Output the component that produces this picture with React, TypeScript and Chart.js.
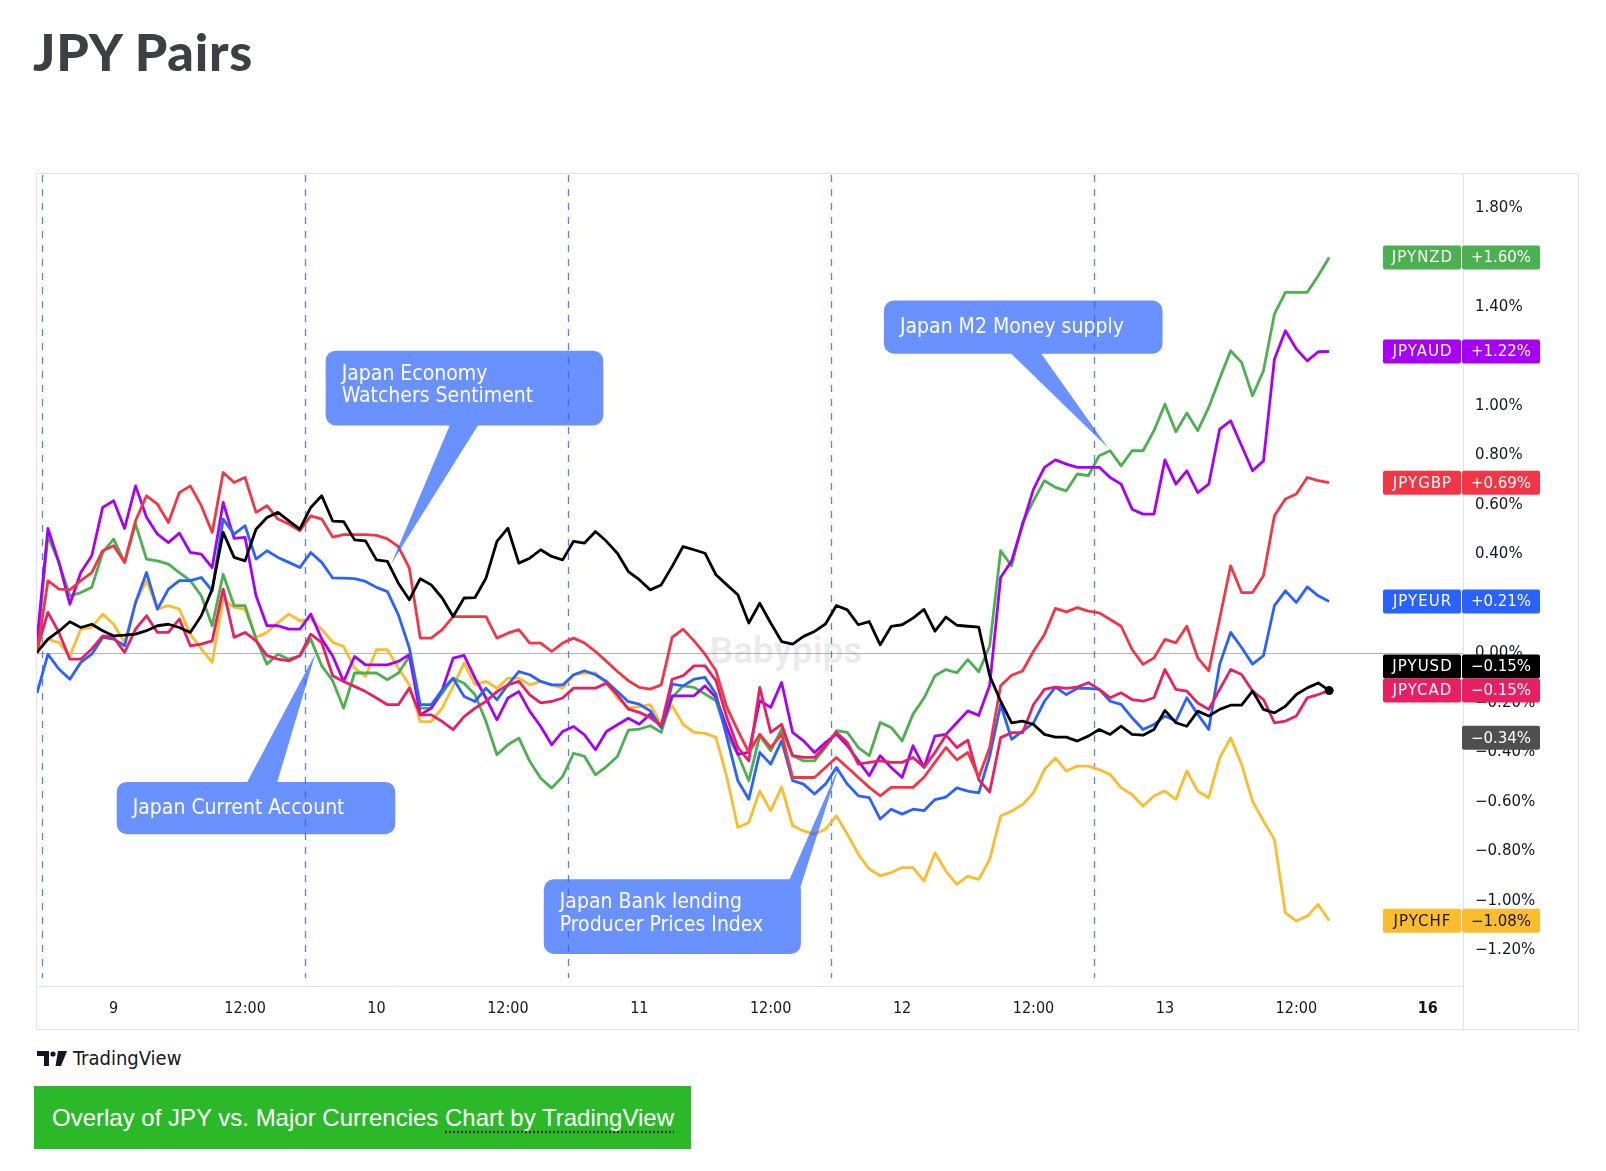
import React, { useEffect, useRef } from "react";
import { Chart, registerables } from "chart.js";

Chart.register(...registerables);

// ---------------- DATA ----------------
// hourly samples, hour 0 = day "9" 00:00 ; series start at hour -7
const hours = Array.from({ length: 119 }, (_, i) => i - 7);

const xTickValues = [0, 12, 24, 36, 48, 60, 72, 84, 96, 108, 120];
const xTickLabels = ["9", "12:00", "10", "12:00", "11", "12:00", "12", "12:00", "13", "12:00", "16"];
const yTickValues = [-1.2, -1.0, -0.8, -0.6, -0.4, -0.2, 0, 0.2, 0.4, 0.6, 0.8, 1.0, 1.2, 1.4, 1.6, 1.8];
const eventHours = [-6.5, 17.5, 41.5, 65.5, 89.5];

const jpyusd = [
  0.004, 0.058, 0.09, 0.128, 0.105, 0.118, 0.092,
  0.071, 0.074, 0.078, 0.092, 0.112, 0.118, 0.105, 0.085, 0.152, 0.26, 0.489, 0.388,
  0.374, 0.502, 0.549, 0.57, 0.536, 0.502, 0.59, 0.637, 0.535, 0.533, 0.459, 0.455,
  0.378, 0.372, 0.284, 0.217, 0.302, 0.277, 0.224, 0.149, 0.224, 0.226, 0.304, 0.453,
  0.506, 0.365, 0.385, 0.419, 0.392, 0.378, 0.453, 0.446, 0.493, 0.453, 0.405, 0.331,
  0.298, 0.257, 0.277, 0.352, 0.432, 0.419, 0.405, 0.318, 0.277, 0.237, 0.123, 0.203,
  0.123, 0.048, 0.038, 0.069, 0.089, 0.119, 0.194, 0.176, 0.116, 0.129, 0.035, 0.109,
  0.116, 0.143, 0.178, 0.09, 0.147, 0.114, 0.11, 0.106, -0.09, -0.193, -0.28, -0.273,
  -0.287, -0.327, -0.338, -0.338, -0.354, -0.334, -0.307, -0.327, -0.294, -0.327, -0.33, -0.307,
  -0.23, -0.28, -0.294, -0.233, -0.253, -0.226, -0.209, -0.209, -0.152, -0.226, -0.24, -0.213,
  -0.166, -0.139, -0.119, -0.15,
];

const jpyaud = [
  0.05, 0.505, 0.368, 0.199, 0.327, 0.395, 0.59,
  0.617, 0.505, 0.677, 0.55, 0.482, 0.448, 0.486, 0.408, 0.401, 0.347, 0.61, 0.465,
  0.469, 0.233, 0.112, 0.112, 0.098, 0.098, 0.159, 0.058, -0.01, -0.113, -0.012, -0.046,
  -0.046, -0.046, -0.032, -0.005, -0.248, -0.221, -0.147, -0.019, -0.008, -0.1, -0.18, -0.268,
  -0.18, -0.154, -0.234, -0.295, -0.369, -0.315, -0.295, -0.329, -0.389, -0.315, -0.288, -0.262,
  -0.286, -0.245, -0.299, -0.171, -0.171, -0.171, -0.131, -0.178, -0.299, -0.407, -0.4, -0.191,
  -0.218, -0.117, -0.319, -0.353, -0.4, -0.36, -0.326, -0.373, -0.434, -0.494, -0.413, -0.461,
  -0.501, -0.373, -0.46, -0.334, -0.327, -0.28, -0.232, -0.25, -0.128, 0.307, 0.374, 0.52,
  0.664, 0.752, 0.782, 0.765, 0.752, 0.752, 0.752, 0.711, 0.684, 0.583, 0.563, 0.563,
  0.782, 0.684, 0.738, 0.65, 0.684, 0.906, 0.94, 0.839, 0.738, 0.778, 1.189, 1.304,
  1.23, 1.182, 1.219, 1.22,
];

const jpygbp = [
  0.0, 0.294, 0.26, 0.257, 0.294, 0.327, 0.415,
  0.435, 0.368, 0.536, 0.637, 0.603, 0.529, 0.65, 0.677, 0.597, 0.489, 0.731, 0.691,
  0.711, 0.57, 0.597, 0.543, 0.523, 0.496, 0.556, 0.543, 0.47, 0.48, 0.48, 0.48,
  0.477, 0.463, 0.432, 0.345, 0.062, 0.062, 0.096, 0.149, 0.149, 0.149, 0.149, 0.062,
  0.082, 0.096, 0.042, 0.042, 0.008, 0.042, 0.062, 0.042, 0.008, -0.032, -0.073, -0.11,
  -0.137, -0.144, -0.127, 0.065, 0.098, 0.051, -0.003, -0.07, -0.218, -0.312, -0.4, -0.326,
  -0.38, -0.326, -0.501, -0.501, -0.501, -0.461, -0.42, -0.461, -0.501, -0.541, -0.575, -0.541,
  -0.541, -0.541, -0.5, -0.44, -0.38, -0.43, -0.4, -0.5, -0.38, -0.13, -0.088, -0.071,
  0.009, 0.077, 0.182, 0.168, 0.185, 0.171, 0.164, 0.137, 0.11, 0.016, -0.044, -0.018,
  0.057, 0.043, 0.11, -0.018, -0.07, 0.14, 0.354, 0.246, 0.246, 0.314, 0.556, 0.624,
  0.644, 0.711, 0.698, 0.69,
];

const jpynzd = [
  0.02, 0.475, 0.368, 0.233, 0.246, 0.267, 0.408,
  0.462, 0.368, 0.523, 0.381, 0.374, 0.361, 0.327, 0.294, 0.233, 0.112, 0.32, 0.193,
  0.193, 0.058, -0.043, -0.003, -0.023, -0.01, 0.058, -0.05, -0.11, -0.221, -0.079, -0.079,
  -0.079, -0.106, -0.079, -0.012, -0.221, -0.221, -0.16, -0.1, -0.12, -0.167, -0.275, -0.409,
  -0.369, -0.342, -0.436, -0.504, -0.544, -0.497, -0.403, -0.416, -0.49, -0.457, -0.416, -0.31,
  -0.306, -0.292, -0.319, -0.178, -0.131, -0.137, -0.164, -0.191, -0.326, -0.407, -0.514, -0.333,
  -0.393, -0.306, -0.413, -0.434, -0.434, -0.38, -0.312, -0.319, -0.38, -0.413, -0.279, -0.299,
  -0.353, -0.245, -0.18, -0.09, -0.065, -0.078, -0.025, -0.074, 0.03, 0.415, 0.354, 0.53,
  0.617, 0.698, 0.671, 0.657, 0.725, 0.718, 0.799, 0.819, 0.758, 0.819, 0.819, 0.9,
  1.007, 0.896, 0.971, 0.9, 0.994, 1.111, 1.223, 1.176, 1.041, 1.142, 1.371, 1.459,
  1.459, 1.459, 1.526, 1.6,
];

const jpyeur = [
  -0.16, -0.003, -0.063, -0.104, -0.036, -0.003, 0.065,
  0.058, 0.031, 0.206, 0.327, 0.179, 0.26, 0.294, 0.294, 0.307, 0.253, 0.543, 0.482,
  0.516, 0.381, 0.415, 0.388, 0.368, 0.347, 0.408, 0.368, 0.305, 0.304, 0.302, 0.291,
  0.267, 0.25, 0.156, 0.022, -0.207, -0.207, -0.147, -0.1, -0.174, -0.194, -0.14, -0.187,
  -0.127, -0.073, -0.086, -0.113, -0.127, -0.127, -0.086, -0.07, -0.086, -0.113, -0.154, -0.195,
  -0.205, -0.232, -0.299, -0.124, -0.131, -0.104, -0.097, -0.164, -0.339, -0.514, -0.589, -0.4,
  -0.447, -0.353, -0.514, -0.528, -0.568, -0.528, -0.461, -0.528, -0.575, -0.582, -0.669, -0.629,
  -0.649, -0.629, -0.635, -0.59, -0.58, -0.543, -0.556, -0.563, -0.415, -0.206, -0.347, -0.314,
  -0.28, -0.193, -0.136, -0.166, -0.141, -0.141, -0.145, -0.193, -0.206, -0.26, -0.307, -0.287,
  -0.253, -0.273, -0.179, -0.246, -0.307, -0.044, 0.085, 0.024, -0.043, -0.009, 0.193, 0.253,
  0.206, 0.269, 0.233, 0.21,
];

const jpychf = [
  0.018, 0.058, 0.044, -0.009, 0.098, 0.105, 0.159,
  0.118, 0.044, 0.206, 0.294, 0.179, 0.193, 0.179, 0.078, 0.018, -0.036, 0.22, 0.186,
  0.179, 0.065, 0.085, 0.125, 0.159, 0.132, 0.139, 0.098, 0.045, 0.028, -0.059, -0.093,
  0.015, 0.015, -0.059, -0.127, -0.275, -0.275, -0.221, -0.133, -0.039, -0.127, -0.113, -0.14,
  -0.1, -0.1, -0.127, -0.113, -0.127, -0.14, -0.086, -0.079, -0.079, -0.12, -0.18, -0.22,
  -0.215, -0.207, -0.286, -0.211, -0.286, -0.319, -0.323, -0.339, -0.501, -0.703, -0.683, -0.555,
  -0.636, -0.539, -0.696, -0.717, -0.73, -0.71, -0.656, -0.73, -0.811, -0.871, -0.898, -0.885,
  -0.865, -0.865, -0.92, -0.805, -0.879, -0.933, -0.9, -0.913, -0.832, -0.657, -0.637, -0.61,
  -0.563, -0.469, -0.422, -0.475, -0.455, -0.455, -0.469, -0.489, -0.543, -0.57, -0.617, -0.576,
  -0.556, -0.59, -0.475, -0.556, -0.583, -0.422, -0.341, -0.448, -0.597, -0.677, -0.752, -1.048,
  -1.081, -1.061, -1.014, -1.08,
];

const jpycad = [
  0.018, 0.166, 0.085, -0.023, -0.023, 0.018, 0.071,
  0.065, 0.004, 0.098, 0.152, 0.085, 0.085, 0.139, 0.031, 0.038, 0.051, 0.26, 0.065,
  0.085, 0.051, -0.009, -0.023, -0.03, -0.009, 0.078, 0.044, -0.09, -0.113, -0.133, -0.154,
  -0.18, -0.207, -0.207, -0.14, -0.248, -0.248, -0.275, -0.308, -0.255, -0.221, -0.194, -0.154,
  -0.127, -0.113, -0.167, -0.2, -0.194, -0.18, -0.14, -0.14, -0.14, -0.12, -0.167, -0.225,
  -0.238, -0.259, -0.292, -0.104, -0.09, -0.05, -0.05, -0.11, -0.259, -0.38, -0.434, -0.137,
  -0.319, -0.286, -0.413, -0.42, -0.42, -0.373, -0.319, -0.36, -0.447, -0.44, -0.434, -0.44,
  -0.44, -0.42, -0.46, -0.4, -0.33, -0.38, -0.35, -0.51, -0.56, -0.34, -0.32, -0.32,
  -0.206, -0.145, -0.136, -0.141, -0.136, -0.118, -0.145, -0.179, -0.159, -0.186, -0.193, -0.179,
  -0.065, -0.145, -0.152, -0.2, -0.226, -0.145, -0.065, -0.085, -0.152, -0.186, -0.28, -0.273,
  -0.253, -0.179, -0.166, -0.15,
];

const seriesNames = ["JPYNZD", "JPYAUD", "JPYGBP", "JPYEUR", "JPYUSD", "JPYCAD", "JPYCHF"];
const seriesValues = [jpynzd, jpyaud, jpygbp, jpyeur, jpyusd, jpycad, jpychf];
const seriesColors = ["#4caf50", "#a800f5", "#f23645", "#2962ff", "#000000", "#e91e63", "#fbbc2e"];
const seriesTextColors = ["#ffffff", "#ffffff", "#ffffff", "#ffffff", "#ffffff", "#ffffff", "#131722"];
// drawing order (first = on top)
const drawOrder = [4, 2, 5, 3, 1, 0, 6];

const indexLastValue = -0.34;
const watermarkText = "Babypips";
const watermarkHour = 61.4;

const callouts = [
  {
    lines: ["Japan Economy", "Watchers Sentiment"],
    box: [19.36, 44.71, 1.2234, 0.9212],
    tip: [25.33, 0.36],
    base: [[30.77, 0.93], [33.39, 0.93]],
  },
  {
    lines: ["Japan Current Account"],
    box: [0.28, 25.72, -0.519, -0.73],
    tip: [18.43, 0.0],
    base: [[12.06, -0.53], [14.87, -0.53]],
  },
  {
    lines: ["Japan Bank lending", "Producer Prices Index"],
    box: [39.28, 62.76, -0.912, -1.214],
    tip: [66.3, -0.45],
    base: [[61.6, -0.925], [62.6, -0.96]],
  },
  {
    lines: ["Japan M2 Money supply"],
    box: [70.34, 95.78, 1.426, 1.211],
    tip: [90.82, 0.83],
    base: [[81.75, 1.22], [84.57, 1.22]],
  },
];

// ---------------- helpers ----------------
const COND = "'DejaVu Sans Condensed', 'DejaVu Sans', sans-serif";
const fmtPct = (v: number) => {
  const a = Math.abs(v).toFixed(2);
  if (a === "0.00") return "0.00%";
  return (v > 0 ? "+" : "\u2212") + a + "%";
};
const fmtTick = (v: number) => {
  const a = Math.abs(v).toFixed(2);
  if (a === "0.00") return "0.00%";
  return (v < 0 ? "\u2212" : "") + a + "%";
};

function signedArea(pts: number[][]) {
  let s = 0;
  for (let i = 0; i < pts.length; i++) {
    const a = pts[i];
    const b = pts[(i + 1) % pts.length];
    s += a[0] * b[1] - b[0] * a[1];
  }
  return s;
}

const overlayPlugin = {
  id: "overlay",
  beforeDatasetsDraw(chart: any) {
    const { ctx, chartArea } = chart;
    const xs = chart.scales.x;
    const ys = chart.scales.y;
    ctx.save();
    // watermark
    ctx.font = "600 37px Roboto, 'Open Sans', sans-serif";
    ctx.fillStyle = "rgba(120,123,134,0.15)";
    ctx.textAlign = "center";
    ctx.textBaseline = "middle";
    ctx.fillText(watermarkText, xs.getPixelForValue(watermarkHour), ys.getPixelForValue(0));
    // event lines
    ctx.strokeStyle = "rgba(41,98,255,0.8)";
    ctx.lineWidth = 1.3;
    ctx.setLineDash([7, 7]);
    for (const h of eventHours) {
      const px = Math.round(xs.getPixelForValue(h)) + 0.5;
      ctx.beginPath();
      ctx.moveTo(px, chartArea.top + 1);
      ctx.lineTo(px, chartArea.bottom - 8);
      ctx.stroke();
    }
    ctx.restore();
  },
  afterDatasetsDraw(chart: any) {
    const { ctx } = chart;
    const xs = chart.scales.x;
    const ys = chart.scales.y;
    ctx.save();
    for (const c of callouts) {
      const left = xs.getPixelForValue(c.box[0]);
      const right = xs.getPixelForValue(c.box[1]);
      const top = ys.getPixelForValue(c.box[2]);
      const bottom = ys.getPixelForValue(c.box[3]);
      const rect = [[left, top], [right, top], [right, bottom], [left, bottom]];
      let tri = [
        [xs.getPixelForValue(c.base[0][0]), ys.getPixelForValue(c.base[0][1])],
        [xs.getPixelForValue(c.tip[0]), ys.getPixelForValue(c.tip[1])],
        [xs.getPixelForValue(c.base[1][0]), ys.getPixelForValue(c.base[1][1])],
      ];
      if (Math.sign(signedArea(tri)) !== Math.sign(signedArea(rect))) tri = [tri[2], tri[1], tri[0]];
      ctx.beginPath();
      ctx.roundRect(left, top, right - left, bottom - top, 10);
      ctx.moveTo(tri[0][0], tri[0][1]);
      ctx.lineTo(tri[1][0], tri[1][1]);
      ctx.lineTo(tri[2][0], tri[2][1]);
      ctx.closePath();
      ctx.fillStyle = "rgba(41,98,255,0.7)";
      ctx.fill("nonzero");
      // text
      ctx.fillStyle = "#ffffff";
      ctx.textAlign = "left";
      ctx.textBaseline = "middle";
      ctx.font = "21px " + COND;
      const mid = (top + bottom) / 2;
      const n = c.lines.length;
      c.lines.forEach((ln: string, i: number) => {
        const cy = mid + (i - (n - 1) / 2) * 22.5 - (n > 1 ? 2.5 : 0);
        ctx.fillText(ln, left + 16, cy);
      });
    }
    ctx.restore();
  },
  afterDraw(chart: any) {
    const { ctx, chartArea } = chart;
    const ys = chart.scales.y;
    ctx.save();
    // separators
    ctx.strokeStyle = "#e0e3eb";
    ctx.lineWidth = 1;
    ctx.beginPath();
    ctx.moveTo(Math.round(chartArea.right) + 0.5, 0);
    ctx.lineTo(Math.round(chartArea.right) + 0.5, chart.height);
    ctx.moveTo(0, Math.round(chartArea.bottom) + 0.5);
    ctx.lineTo(chartArea.right, Math.round(chartArea.bottom) + 0.5);
    ctx.stroke();

    // tags
    const H = 24;
    const W = 78;
    const items: any[] = seriesNames.map((name, i) => {
      const v = seriesValues[i][seriesValues[i].length - 1];
      return { name, value: v, color: seriesColors[i], text: seriesTextColors[i], y: ys.getPixelForValue(v), idx: i };
    });
    items.push({ name: null, value: indexLastValue, color: "#4f4f4f", text: "#ffffff", y: ys.getPixelForValue(indexLastValue), idx: 99 });
    items.sort((a, b) => a.y - b.y || a.idx - b.idx);
    for (let i = items.length - 1; i >= 1; i--) {
      if (items[i - 1].y > items[i].y - H) items[i - 1].y = items[i].y - H;
    }
    const vx = chartArea.right - 1;
    const nx = chartArea.right - 2 - W;
    for (const it of items) {
      const top = it.y - H / 2;
      ctx.fillStyle = it.color;
      ctx.beginPath();
      ctx.roundRect(vx, top, W, H, 2);
      ctx.fill();
      ctx.font = "15px 'DejaVu Sans', sans-serif";
      ctx.textAlign = "center";
      ctx.textBaseline = "middle";
      ctx.fillStyle = it.text;
      ctx.fillText(fmtPct(it.value), vx + W / 2, it.y + 1);
      if (it.name) {
        ctx.fillStyle = it.color;
        ctx.beginPath();
        ctx.roundRect(nx, top, W, H, 2);
        ctx.fill();
        ctx.fillStyle = it.text;
        (ctx as any).letterSpacing = "1px";
        ctx.fillText(it.name, nx + W / 2 + 0.5, it.y + 1);
        (ctx as any).letterSpacing = "0px";
      }
    }
    ctx.restore();
  },
};

export default function App() {
  const ref = useRef<HTMLCanvasElement>(null);

  useEffect(() => {
    if (!ref.current) return;
    const datasets = drawOrder.map((i) => ({
      label: seriesNames[i],
      data: hours.map((h, k) => ({ x: h, y: seriesValues[i][k] })),
      borderColor: seriesColors[i],
      backgroundColor: seriesColors[i],
      borderWidth: 2.8,
      borderJoinStyle: "round" as const,
      tension: 0,
      fill: false,
      pointRadius: (c: any) => (seriesNames[i] === "JPYUSD" && c.dataIndex === hours.length - 1 ? 4.5 : 0),
      pointHoverRadius: 0,
      pointBorderWidth: 0,
      pointBackgroundColor: seriesColors[i],
    }));

    const chart = new Chart(ref.current, {
      type: "line",
      data: { datasets },
      options: {
        responsive: false,
        animation: false,
        devicePixelRatio: 1,
        layout: { padding: 0, autoPadding: false },
        events: [],
        plugins: { legend: { display: false }, tooltip: { enabled: false }, title: { display: false } },
        scales: {
          x: {
            type: "linear",
            min: -7.0,
            max: 123.22,
            afterBuildTicks: (scale: any) => {
              scale.ticks = xTickValues.map((v) => ({ value: v }));
            },
            afterFit: (scale: any) => {
              scale.height = 43;
              scale.paddingLeft = 0;
              scale.paddingRight = 0;
            },
            grid: { display: false, drawTicks: false },
            border: { display: false },
            ticks: {
              autoSkip: false,
              maxRotation: 0,
              minRotation: 0,
              padding: 13,
              color: "#131722",
              font: (c: any) => ({
                family: COND,
                size: 16,
                weight: c.tick && c.tick.value === 120 ? "bold" : "normal",
              }),
              callback: (v: any) => {
                const i = xTickValues.indexOf(Number(v));
                return i >= 0 ? xTickLabels[i] : "";
              },
            },
          },
          y: {
            type: "linear",
            position: "right",
            min: -1.3434,
            max: 1.937,
            afterBuildTicks: (scale: any) => {
              scale.ticks = yTickValues.map((v) => ({ value: v }));
            },
            afterFit: (scale: any) => {
              scale.width = 115;
              scale.paddingTop = 0;
              scale.paddingBottom = 0;
            },
            grid: {
              drawTicks: false,
              drawOnChartArea: true,
              lineWidth: 1,
              color: (c: any) => (c.tick && Math.abs(c.tick.value) < 1e-9 ? "#b2b5be" : "rgba(0,0,0,0)"),
            },
            border: { display: false },
            ticks: {
              padding: 12,
              color: "#131722",
              font: { family: "'DejaVu Sans', sans-serif", size: 15 },
              callback: (v: any) => fmtTick(Number(v)),
            },
          },
        },
      },
      plugins: [overlayPlugin],
    } as any);
    return () => chart.destroy();
  }, []);

  return (
    <div
      style={{
        position: "absolute",
        left: 0,
        top: 0,
        width: 1606,
        height: 1171,
        background: "#ffffff",
        overflow: "hidden",
      }}
    >
      <div
        style={{
          position: "absolute",
          left: 33,
          top: 25,
          fontFamily: "Lato, 'Open Sans', sans-serif",
          fontWeight: 900,
          fontSize: 52,
          letterSpacing: 0.8,
          lineHeight: "52px",
          color: "#3c3f44",
          whiteSpace: "nowrap",
        }}
      >
        JPY Pairs
      </div>

      <div
        style={{
          position: "absolute",
          left: 36,
          top: 173,
          width: 1541,
          height: 855,
          border: "1px solid #e0e3eb",
        }}
      >
        <canvas ref={ref} width={1541} height={855} style={{ display: "block", width: 1541, height: 855 }} />
      </div>

      <div
        style={{
          position: "absolute",
          left: 37,
          top: 1047,
          height: 22,
          display: "flex",
          alignItems: "center",
          gap: 6,
          color: "#131722",
          fontFamily: COND,
          fontSize: 20,
          whiteSpace: "nowrap",
        }}
      >
        <svg width="30" height="15" viewBox="0 0 30 15">
          <path d="M0 0 H12 V15 H7 V5 H0 Z" fill="#131722" />
          <circle cx="16" cy="3" r="2.6" fill="#131722" />
          <path d="M21 0 H30 L24 15 H18.5 Z" fill="#131722" />
        </svg>
        <span>TradingView</span>
      </div>

      <div
        style={{
          position: "absolute",
          left: 34,
          top: 1086,
          width: 657,
          height: 63,
          background: "#2bb929",
          color: "#ffffff",
          fontFamily: "'Liberation Sans', Arial, sans-serif",
          fontSize: 24,
          lineHeight: "63px",
          paddingLeft: 18,
          boxSizing: "border-box",
          whiteSpace: "nowrap",
        }}
      >
        Overlay of JPY vs. Major Currencies{" "}
        <span
          style={{
            textDecorationLine: "underline",
            textDecorationStyle: "dotted",
            textDecorationColor: "#2a3a2a",
            textUnderlineOffset: 5,
          }}
        >
          Chart by TradingView
        </span>
      </div>
    </div>
  );
}
